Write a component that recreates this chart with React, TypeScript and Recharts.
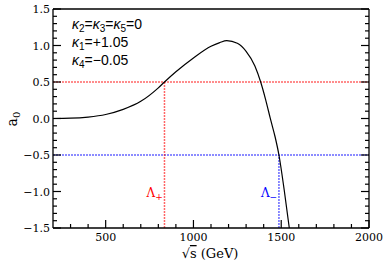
import { LineChart, Line, XAxis, YAxis, ReferenceLine } from "recharts"

// sqrt(s) in GeV and the a0 partial wave
const energy = [200, 300, 400, 500, 600, 700, 800, 835, 900, 1000, 1100, 1150, 1190, 1250, 1300, 1350, 1383, 1410, 1440, 1465, 1487, 1517, 1546]
const a0 = [0.0, 0.004, 0.02, 0.055, 0.125, 0.235, 0.42, 0.5, 0.64, 0.83, 0.99, 1.04, 1.066, 1.03, 0.92, 0.72, 0.5, 0.27, -0.02, -0.25, -0.5, -0.98, -1.5]

const xMajor = [500, 1000, 1500, 2000]
const xMinor = [300, 400, 600, 700, 800, 900, 1100, 1200, 1300, 1400, 1600, 1700, 1800, 1900]
const yMajor = [-1.5, -1.0, -0.5, 0.0, 0.5, 1.0, 1.5]
const yMinor = [-1.4, -1.3, -1.2, -1.1, -0.9, -0.8, -0.7, -0.6, -0.4, -0.3, -0.2, -0.1, 0.1, 0.2, 0.3, 0.4, 0.6, 0.7, 0.8, 0.9, 1.1, 1.2, 1.3, 1.4]

const unitarityBound = 0.5
const lambdaPlus = 835
const lambdaMinus = 1487

// "_x" marks a one-character subscript
const couplings = ["κ_2=κ_3=κ_5=0", "κ_1=+1.05", "κ_4=−0.05"]

const data = energy.map((e, i) => ({ e, a0: a0[i] }))
const xTicks = [...xMinor, ...xMajor].sort((a, b) => a - b)
const yTicks = [...yMinor, ...yMajor].sort((a, b) => a - b)

// dotted guides: unitarity bound and where the curve crosses it
const upperBound = [{ e: 200, v: unitarityBound }, { e: 2000, v: unitarityBound }]
const lowerBound = [{ e: 200, v: -unitarityBound }, { e: 2000, v: -unitarityBound }]
const plusDrop = [{ e: lambdaPlus, v: -1.5 }, { e: lambdaPlus, v: unitarityBound }]
const minusDrop = [{ e: lambdaMinus, v: -1.5 }, { e: lambdaMinus, v: -unitarityBound }]

const tickFont = "DejaVu Serif"
const RED = "#ff0000"
const BLUE = "#0000ff"
const isMajorY = (v: number) => yMajor.some((m) => Math.abs(m - v) < 1e-6)
const fmtY = (v: number) => (v < 0 ? "\u2212" : "") + Math.abs(v).toFixed(1)

const BottomTick = ({ x, y, payload }: any) => {
  const major = xMajor.includes(payload.value)
  return (
    <g>
      <line x1={x} y1={y} x2={x} y2={y - (major ? 8 : 4)} stroke="#000" strokeWidth={1.2} />
      {major && (
        <text x={x} y={y + 13} textAnchor="middle" fontSize={11} fontFamily={tickFont} fill="#000">
          {payload.value}
        </text>
      )}
    </g>
  )
}

const TopTick = ({ x, y, payload }: any) => {
  const major = xMajor.includes(payload.value)
  return <line x1={x} y1={y} x2={x} y2={y + (major ? 8 : 4)} stroke="#000" strokeWidth={1.2} />
}

const LeftTick = ({ x, y, payload }: any) => {
  const major = isMajorY(payload.value)
  return (
    <g>
      <line x1={x} y1={y} x2={x + (major ? 8 : 4)} y2={y} stroke="#000" strokeWidth={1.2} />
      {major && (
        <text x={x - 3} y={y + 4} textAnchor="end" fontSize={11} fontFamily={tickFont} fill="#000">
          {fmtY(payload.value)}
        </text>
      )}
    </g>
  )
}

const RightTick = ({ x, y, payload }: any) => {
  const major = isMajorY(payload.value)
  return <line x1={x} y1={y} x2={x - (major ? 8 : 4)} y2={y} stroke="#000" strokeWidth={1.2} />
}

const lambdaLabel = (sign: string, color: string) => (props: any) => {
  const vb = props.viewBox
  return (
    <text x={vb.x - 18} y={vb.y + vb.height - 31} fontSize={12} fontFamily={tickFont} fill={color}>
      Λ<tspan dy={3} fontSize={9}>{sign}</tspan>
    </text>
  )
}

function Coupling({ text, x, y }: { text: string; x: number; y: number }) {
  const parts = text.split(/(_.)/).filter(Boolean)
  return (
    <text x={x} y={y} fontSize={14} fontFamily="Liberation Sans" fill="#000">
      {parts.map((p, i) =>
        p.startsWith("_") ? (
          <tspan key={i} dy={3} fontSize={10}>{p.slice(1)}</tspan>
        ) : (
          <tspan key={i} dy={i > 0 && parts[i - 1].startsWith("_") ? -3 : 0}>
            {p.split("").map((c, j) =>
              c === "κ" ? <tspan key={j} fontStyle="italic">κ</tspan> : c
            )}
          </tspan>
        )
      )}
    </text>
  )
}

const frame = { stroke: "#000", strokeWidth: 1.3 }

const guide = (d: { e: number; v: number }[], color: string, key: string) => (
  <Line key={key} xAxisId="b" yAxisId="l" data={d} dataKey="v" type="linear" stroke={color}
    strokeOpacity={0.6} strokeWidth={1.5} strokeDasharray="2 1" dot={false} activeDot={false}
    isAnimationActive={false} />
)

export default function App() {
  return (
    <div style={{ position: "absolute", left: 0, top: 0, width: 391, height: 267, background: "#fff" }}>
      <LineChart width={391} height={267} data={data} margin={{ top: 8, right: 21, bottom: 38, left: 52 }}>
        <XAxis xAxisId="b" dataKey="e" type="number" domain={[200, 2000]} ticks={xTicks} interval={0}
          height={1} tickSize={0} tickMargin={0} tickLine={false} tick={<BottomTick />}
          axisLine={frame} allowDataOverflow />
        <XAxis xAxisId="t" orientation="top" type="number" domain={[200, 2000]} ticks={xTicks} interval={0}
          height={1} tickSize={0} tickMargin={0} tickLine={false} tick={<TopTick />}
          axisLine={frame} allowDataOverflow />
        <YAxis yAxisId="l" type="number" domain={[-1.5, 1.5]} ticks={yTicks} interval={0}
          width={1} tickSize={0} tickMargin={0} tickLine={false} tick={<LeftTick />}
          axisLine={frame} allowDataOverflow />
        <YAxis yAxisId="r" orientation="right" type="number" domain={[-1.5, 1.5]} ticks={yTicks} interval={0}
          width={1} tickSize={0} tickMargin={0} tickLine={false} tick={<RightTick />}
          axisLine={frame} allowDataOverflow />
        {guide(upperBound, RED, "ub")}
        {guide(lowerBound, BLUE, "lb")}
        {guide(plusDrop, RED, "pd")}
        {guide(minusDrop, BLUE, "md")}
        <ReferenceLine xAxisId="b" yAxisId="l" stroke="none"
          segment={[{ x: lambdaPlus, y: -1.5 }, { x: lambdaPlus, y: unitarityBound }]}
          label={lambdaLabel("+", RED)} />
        <ReferenceLine xAxisId="b" yAxisId="l" stroke="none"
          segment={[{ x: lambdaMinus, y: -1.5 }, { x: lambdaMinus, y: -unitarityBound }]}
          label={lambdaLabel("\u2212", BLUE)} />
        <Line xAxisId="b" yAxisId="l" type="monotone" dataKey="a0" stroke="#000" strokeWidth={1.2}
          dot={false} activeDot={false} isAnimationActive={false} />
      </LineChart>
      <svg width={391} height={267} style={{ position: "absolute", left: 0, top: 0, pointerEvents: "none" }}>
        {couplings.map((c, i) => (
          <Coupling key={c} text={c} x={72} y={29 + i * 18} />
        ))}
        <text x={17} y={119} transform="rotate(-90 17 119)" textAnchor="middle" fontSize={14} fontFamily={tickFont}>
          a<tspan dy={3} fontSize={10}>0</tspan>
        </text>
        <text x={210} y={258} textAnchor="middle" fontSize={13} fontFamily={tickFont}>
          √<tspan style={{ textDecoration: "overline" }}>s</tspan> (GeV)
        </text>
      </svg>
    </div>
  )
}
